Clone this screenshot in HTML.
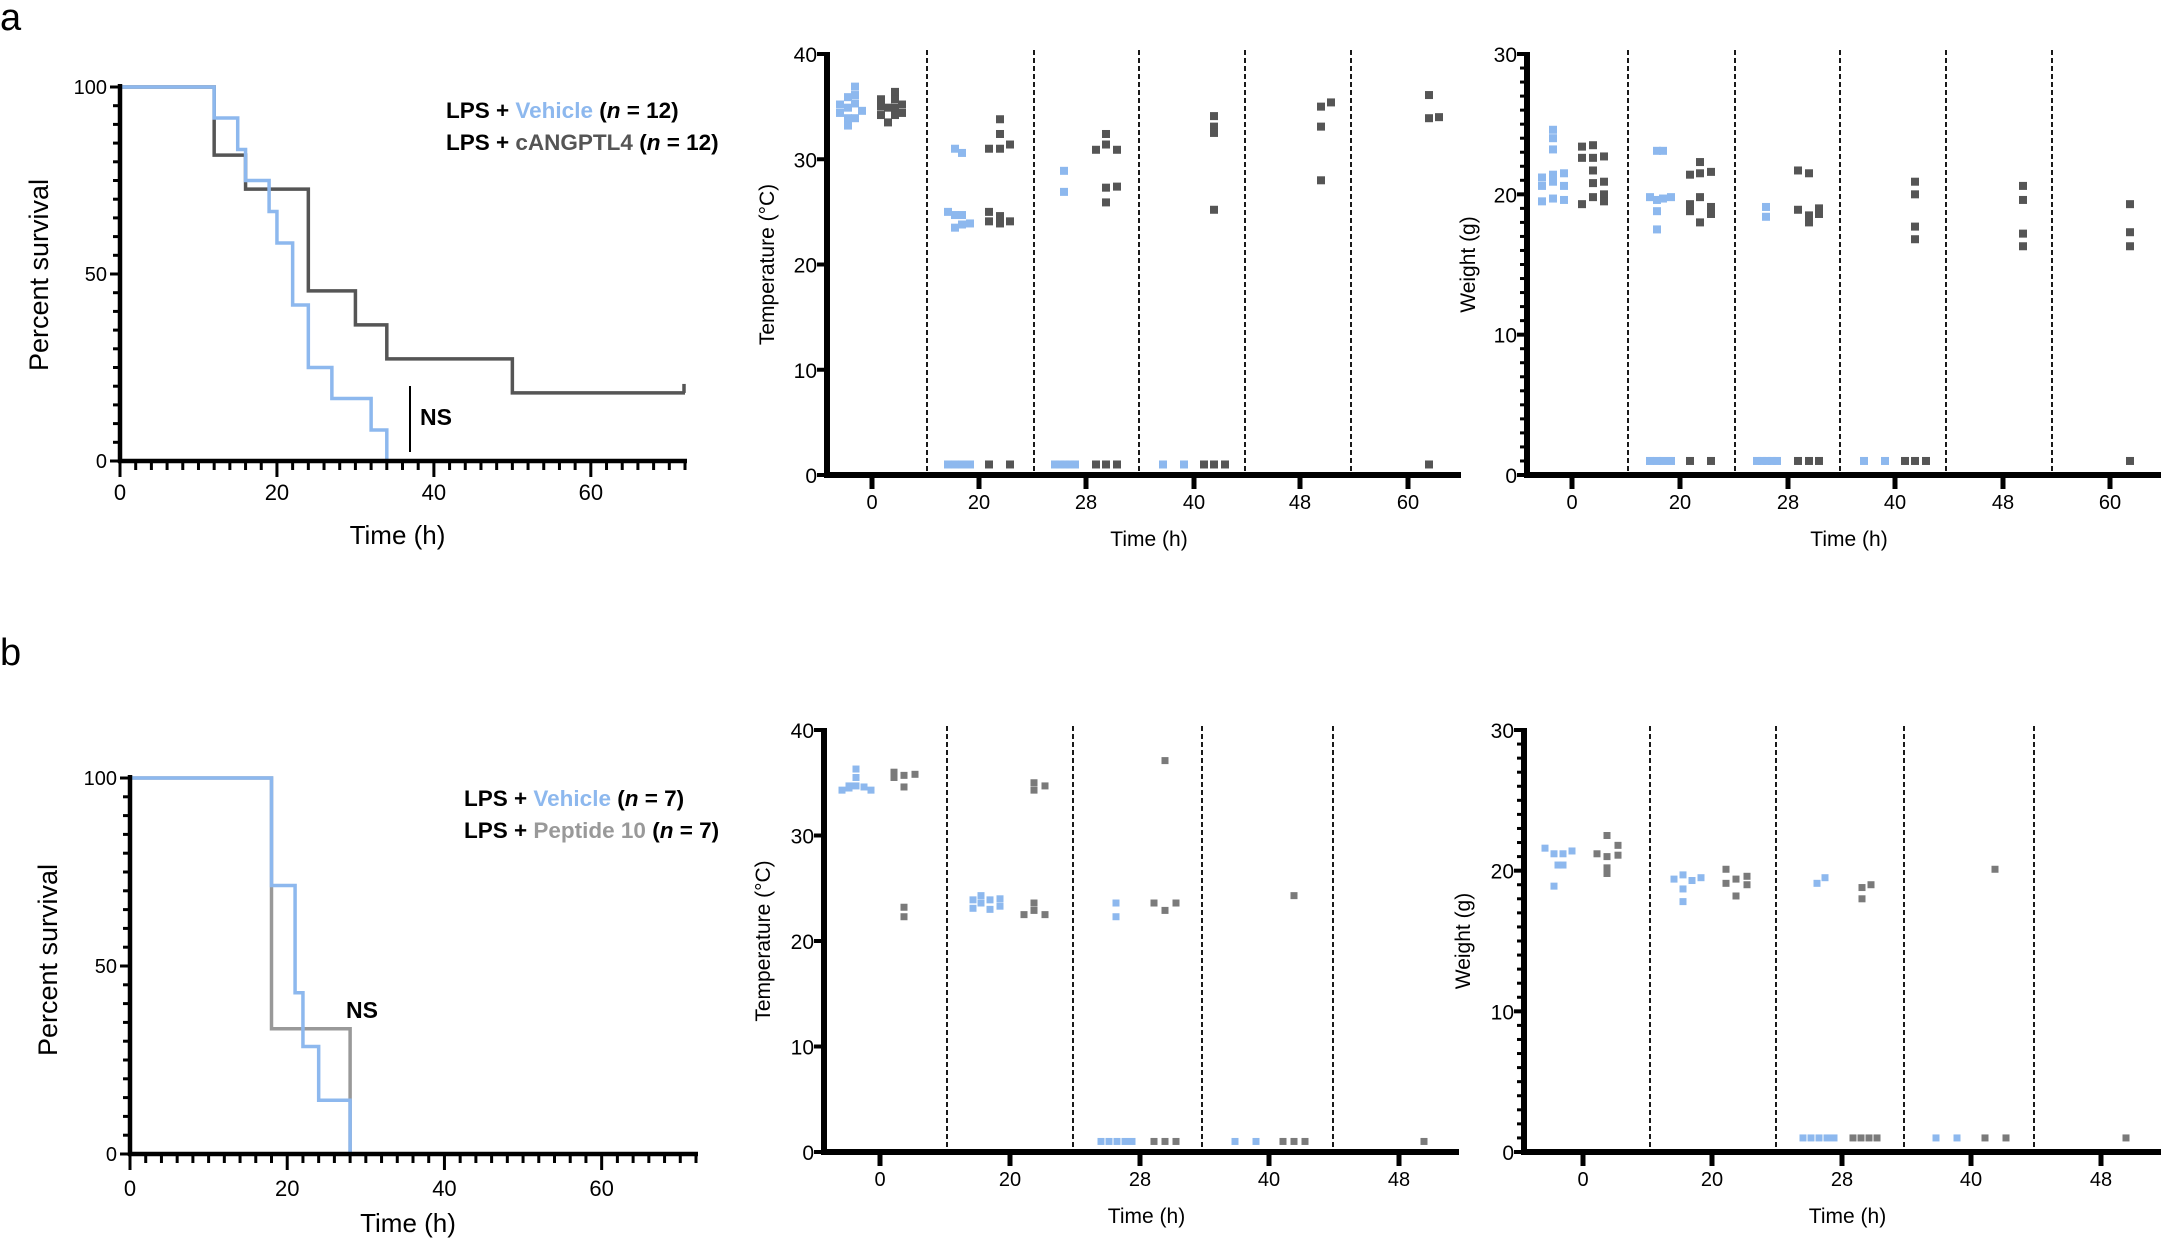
<!DOCTYPE html>
<html><head><meta charset="utf-8">
<style>
html,body{margin:0;padding:0;background:#fff;}
svg{display:block;font-family:"Liberation Sans",Arial,sans-serif;}
</style></head>
<body>
<svg id="s" width="2161" height="1241" viewBox="0 0 2161 1241" xmlns="http://www.w3.org/2000/svg">
<text x="0" y="30" font-size="38">a</text>
<text x="0" y="665" font-size="38">b</text>
<g id="g"></g>
<text x="446" y="118" font-size="22.5" font-weight="bold">LPS + <tspan fill="#8db8ee">Vehicle</tspan> (<tspan font-style="italic">n</tspan> = 12)</text>
<text x="446" y="150" font-size="22.5" font-weight="bold">LPS + <tspan fill="#555">cANGPTL4</tspan> (<tspan font-style="italic">n</tspan> = 12)</text>
<text x="420" y="425" font-size="23" font-weight="bold">NS</text>
<line x1="410" y1="386" x2="410" y2="452" stroke="#000" stroke-width="2"/>
<text x="464" y="806" font-size="22.5" font-weight="bold">LPS + <tspan fill="#8db8ee">Vehicle</tspan> (<tspan font-style="italic">n</tspan> = 7)</text>
<text x="464" y="838" font-size="22.5" font-weight="bold">LPS + <tspan fill="#999">Peptide 10</tspan>  (<tspan font-style="italic">n</tspan> = 7)</text>
<text x="346" y="1018" font-size="23" font-weight="bold">NS</text>
</svg>
<script>
var out='';
function L(x1,y1,x2,y2,c,w,extra){out+='<line x1="'+x1+'" y1="'+y1+'" x2="'+x2+'" y2="'+y2+'" stroke="'+c+'" stroke-width="'+w+'"'+(extra||'')+'/>';}
function T(x,y,s,sz,anchor,rot){out+='<text x="'+x+'" y="'+y+'" font-size="'+sz+'" text-anchor="'+(anchor||'middle')+'"'+(rot?' transform="rotate(-90 '+x+' '+y+')"':'')+'>'+s+'</text>';}
function R(x,y,c,s){s=s||8;out+='<rect x="'+(x-s/2)+'" y="'+(y-s/2)+'" width="'+s+'" height="'+s+'" fill="'+c+'"/>';}
function P(pts,c,w){out+='<polyline points="'+pts.map(p=>p.join(',')).join(' ')+'" fill="none" stroke="'+c+'" stroke-width="'+w+'"/>';}

function surv(x0,y0,y100,endx,tickY,titleY,curves){
  var px=(endx-x0)/72, py=(y0-y100)/100;
  var X=h=>x0+h*px, Y=p=>y0-p*py;
  curves.forEach(cv=>{
    var pts=[[X(0),Y(100)]],cur=100;
    cv.steps.forEach(s=>{pts.push([X(s[0]),Y(cur)]);pts.push([X(s[0]),Y(s[1])]);cur=s[1];});
    if(cv.end){pts.push([X(cv.end),Y(cur)]);}
    P(pts,cv.c,3.5);
    if(cv.tick){L(X(cv.end)-1,Y(cur),X(cv.end)-1,Y(cur)-9,cv.c,3.5);}
  });
  L(x0,y100-3,x0,y0+2,'#000',4.5);
  L(x0-2,y0,endx+2,y0,'#000',4.5);
  for(var p=0;p<=100;p+=5){var len=(p%50==0)?10:7;L(x0-len,Y(p),x0,Y(p),'#000',3);}
  [0,50,100].forEach(p=>T(x0-13,Y(p)+7,p,20,'end'));
  for(var h=0;h<=72;h+=2){var len=(h%20==0)?16:9;L(X(h),y0,X(h),y0+len,'#000',3);}
  [0,20,40,60].forEach(h=>T(X(h),tickY,h,22));
  T((x0+endx)/2-5,titleY,'Time (h)',26);
}
surv(120,461,87,685,500,544,[
 {c:'#555',steps:[[12,81.8],[16,72.7],[24,45.5],[30,36.4],[34,27.3],[50,18.2]],end:72,tick:1},
 {c:'#8db8ee',steps:[[12,91.7],[15,83.3],[16,75],[19,66.7],[20,58.3],[22,41.7],[24,25],[27,16.7],[32,8.3],[34,0]]}
]);
T(48,275,'Percent survival',27,'middle',1);
surv(130,1154,778,696,1196,1232,[
 {c:'#999',steps:[[18,33.3],[28,0]]},
 {c:'#8db8ee',steps:[[18,71.4],[21,42.9],[22,28.6],[24,14.3],[28,0]]}
]);
T(57,960,'Percent survival',27,'middle',1);

function dot(cfg){
  var Y=v=>cfg.y0-v*(cfg.y0-cfg.ytop)/cfg.max;
  cfg.div.forEach(d=>L(d,cfg.ytop-4,d,cfg.y0,'#000',1.8,' stroke-dasharray="5,3"'));
  L(cfg.ax,cfg.ytop-2,cfg.ax,cfg.y0+3,'#000',6);
  L(cfg.ax-3,cfg.y0,cfg.xend,cfg.y0,'#000',6);
  if(cfg.minor){for(var v=0;v<=cfg.max;v++){L(cfg.ax-7,Y(v),cfg.ax,Y(v),'#000',3);}}
  for(var v=0;v<=cfg.max;v+=10){L(cfg.ax-10,Y(v),cfg.ax,Y(v),'#000',4);T(cfg.ax-10,Y(v)+8,v,21,'end');}
  cfg.ticks.forEach((t,i)=>{L(t,cfg.y0,t,cfg.y0+14,'#000',5);T(t,cfg.y0+34,cfg.labels[i],20);});
  T((cfg.ax+cfg.xend)/2+5,cfg.y0+71,'Time (h)',21);
  T(cfg.ylx,(cfg.ytop+cfg.y0)/2,cfg.ylab,21,'middle',1);
  cfg.data.forEach((cat,i)=>{
    var t=cfg.ticks[i];
    [['b',cfg.cb],['g',cfg.cg]].forEach(k=>{(cat[k[0]]||[]).forEach(p=>R(t+p[0],Y(p[1]),k[1],cfg.ms));});
  });
}
function col(dx,vals){return vals.map(v=>[dx,v]);}
function bot(dxs){return dxs.map(d=>[d,1]);}
var B='#8db8ee';
dot({ax:827,y0:475,ytop:54,max:40,xend:1461,div:[927,1034,1139,1245,1351],
 ticks:[872,979,1086,1194,1300,1408],labels:[0,20,28,40,48,60],ylab:'Temperature (°C)',ylx:774,
 cb:B,cg:'#555',ms:8,data:[
 {b:[].concat(col(-32,[35.2,34.4]),col(-24,[35.9,34.9,33.9,33.2]),col(-17,[36.9,36.1,35.3,33.9]),col(-10,[34.6])),
  g:[].concat(col(9,[35.7,35.0,34.2]),col(16,[33.5,34.9]),col(23,[36.4,35.7,34.9,34.2]),col(30,[35.2,34.4]))},
 {b:[].concat(col(-31,[25.0]),col(-24,[31,24.7,23.5]),col(-17,[30.6,24.7,23.8]),col(-9,[23.9]),bot([-31,-24,-17,-9])),
  g:[].concat(col(10,[31,25,24.1,1]),col(21,[33.8,32.4,31,24.6,23.9]),col(31,[31.4,24.1,1]))},
 {b:[].concat(col(-22,[28.9,26.9]),bot([-31,-26,-21,-16,-11])),
  g:[].concat(col(10,[30.9,1]),col(20,[32.4,31.4,27.3,25.9,1]),col(31,[30.9,27.4,1]))},
 {b:bot([-31,-10]),g:[].concat(col(10,[1]),col(20,[34.1,33.1,32.5,25.2,1]),col(31,[1]))},
 {g:[].concat(col(21,[35,33.1,28]),col(31,[35.4]))},
 {g:[].concat(col(21,[36.1,33.9,1]),col(31,[34]))}
]});
dot({ax:1527,y0:475,ytop:54,max:30,xend:2161,div:[1628,1735,1840,1946,2052],minor:1,
 ticks:[1572,1680,1788,1895,2003,2110],labels:[0,20,28,40,48,60],ylab:'Weight (g)',ylx:1475,
 cb:B,cg:'#555',ms:8,data:[
 {b:[].concat(col(-30,[21.2,20.6,19.5]),col(-19,[24.6,24,23.2,21.4,20.9,19.7]),col(-8,[21.5,20.6,19.6])),
  g:[].concat(col(10,[23.4,22.6,19.3]),col(21,[23.5,22.6,21.7,20.8,19.8]),col(32,[22.7,20.9,20,19.5]))},
 {b:[].concat(col(-30,[19.8,1]),col(-23,[23.1,19.6,18.8,17.5,1]),col(-17,[23.1,19.7,1]),col(-9,[19.8,1])),
  g:[].concat(col(10,[21.4,19.3,18.8,1]),col(20,[22.3,21.5,19.8,18]),col(31,[21.6,19.1,18.6,1]))},
 {b:[].concat(col(-22,[19.1,18.4]),bot([-31,-26,-21,-16,-11])),
  g:[].concat(col(10,[21.7,18.9,1]),col(21,[21.5,18.5,18,1]),col(31,[19,18.6,1]))},
 {b:bot([-31,-10]),g:[].concat(col(10,[1]),col(20,[20.9,20,17.7,16.8,1]),col(31,[1]))},
 {g:col(20,[20.6,19.6,17.2,16.3])},
 {g:col(20,[19.3,17.3,16.3,1])}
]});
dot({ax:824,y0:1152,ytop:730,max:40,xend:1459,div:[947,1073,1202,1333],
 ticks:[880,1010,1140,1269,1399],labels:[0,20,28,40,48],ylab:'Temperature (°C)',ylx:770,
 cb:B,cg:'#7a7a7a',ms:7,data:[
 {b:[].concat(col(-38,[34.3]),col(-31,[34.7,34.5]),col(-24,[36.3,35.5,34.7]),col(-16,[34.6]),col(-9,[34.3])),
  g:[].concat(col(14,[36,35.5]),col(24,[35.7,34.6,23.2,22.3]),col(35,[35.8]))},
 {b:[].concat(col(-37,[23.9,23.1]),col(-29,[24.3,23.6]),col(-20,[23.9,23]),col(-10,[24,23.3])),
  g:[].concat(col(14,[22.5]),col(24,[35,34.3,23.6,22.9]),col(35,[34.7,22.5]))},
 {b:[].concat(col(-24,[23.6,22.3]),bot([-39,-31,-23,-15,-8])),
  g:[].concat(col(14,[23.6,1]),col(25,[37.1,22.9,1]),col(36,[23.6,1]))},
 {b:bot([-34,-13]),g:[].concat(col(14,[1]),col(25,[24.3,1]),col(36,[1]))},
 {g:col(25,[1])}
]});
dot({ax:1524,y0:1152,ytop:730,max:30,xend:2161,div:[1650,1776,1904,2034],minor:1,
 ticks:[1583,1712,1842,1971,2101],labels:[0,20,28,40,48],ylab:'Weight (g)',ylx:1470,
 cb:B,cg:'#7a7a7a',ms:7,data:[
 {b:[].concat(col(-38,[21.6]),col(-29,[21.2,18.9]),col(-25,[20.4]),col(-20,[21.2,20.4]),col(-11,[21.4])),
  g:[].concat(col(14,[21.2]),col(24,[22.5,21,20.2,19.8]),col(35,[21.8,21.1]))},
 {b:[].concat(col(-38,[19.4]),col(-29,[19.7,18.7,17.8]),col(-20,[19.3]),col(-11,[19.5])),
  g:[].concat(col(14,[20.1,19.1]),col(24,[19.4,18.2]),col(35,[19.6,19]))},
 {b:[].concat(col(-25,[19.1]),col(-17,[19.5]),bot([-39,-31,-23,-15,-8])),
  g:[].concat(col(20,[18.8,18]),col(29,[19]),bot([11,19,27,35]))},
 {b:bot([-35,-14]),g:[].concat(col(14,[1]),col(24,[20.1]),col(35,[1]))},
 {g:col(25,[1])}
]});
document.getElementById('g').innerHTML=out;
</script>
</body></html>
